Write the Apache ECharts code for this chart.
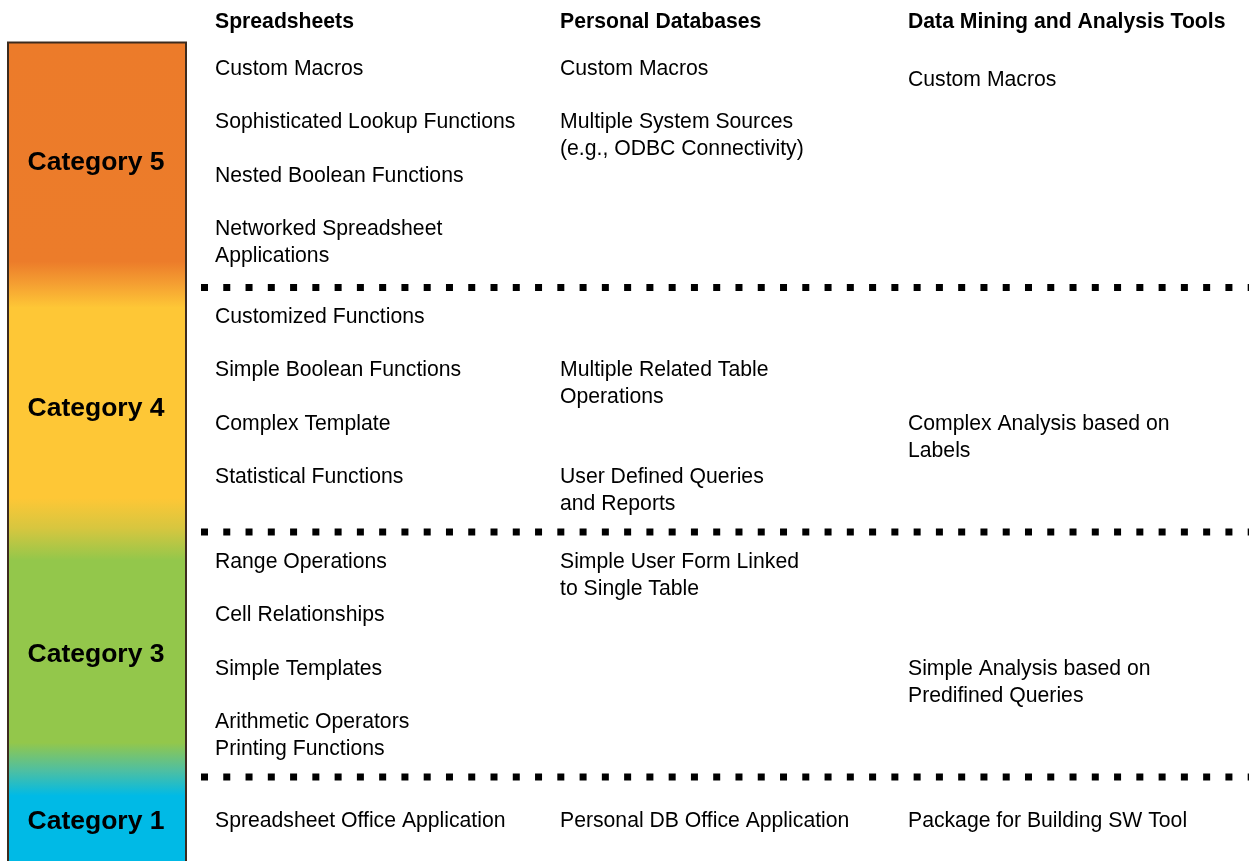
<!DOCTYPE html>
<html>
<head>
<meta charset="utf-8">
<script src="https://cdn.jsdelivr.net/npm/echarts@6/dist/echarts.min.js"></script>
<style>
html,body{margin:0;padding:0;background:#fff;}
#main{width:1249px;height:861px;}
</style>
</head>
<body>
<div id="main"></div>
<script>
// ---- data ----
const levels = ['Category 5', 'Category 4', 'Category 3', 'Category 1'];
const columns = ['Spreadsheets', 'Personal Databases', 'Data Mining and Analysis Tools'];
// [levelIndex, rowIndex, text]
const spreadsheetItems = [
  [0, 0, 'Custom Macros'],
  [0, 1, 'Sophisticated Lookup Functions'],
  [0, 2, 'Nested Boolean Functions'],
  [0, 3, 'Networked Spreadsheet\nApplications'],
  [1, 0, 'Customized Functions'],
  [1, 1, 'Simple Boolean Functions'],
  [1, 2, 'Complex Template'],
  [1, 3, 'Statistical Functions'],
  [2, 0, 'Range Operations'],
  [2, 1, 'Cell Relationships'],
  [2, 2, 'Simple Templates'],
  [2, 3, 'Arithmetic Operators\nPrinting Functions'],
  [3, 0, 'Spreadsheet Office Application']
];
const databaseItems = [
  [0, 0, 'Custom Macros'],
  [0, 1, 'Multiple System Sources\n(e.g., ODBC Connectivity)'],
  [1, 1, 'Multiple Related Table\nOperations'],
  [1, 3, 'User Defined Queries\nand Reports'],
  [2, 0, 'Simple User Form Linked\nto Single Table'],
  [3, 0, 'Personal DB Office Application']
];
const miningItems = [
  [0, 0.2, 'Custom Macros'],
  [1, 2, 'Complex Analysis based on\nLabels'],
  [2, 2, 'Simple Analysis based on\nPredifined Queries'],
  [3, 0, 'Package for Building SW Tool']
];

// ---- layout ----
const W = 1249, H = 861;
const levelTop = [69, 317, 562, 821];
const levelCenter = [163, 409, 655, 822];
const separatorY = [287.5, 532, 777];
const rowStep = 53.5;
const lineH = 27;
const colX = [215, 560, 908];
const headerY = 22;
const FONT = '"Liberation Sans", Arial, sans-serif';

function toPoints(items, col) {
  return items.map(function (it) {
    const lines = it[2].split('\n').length;
    const y = levelTop[it[0]] + it[1] * rowStep + (lines - 1) * lineH / 2;
    return { name: it[2], value: [colX[col], y] };
  });
}

const textLabel = {
  show: true, position: 'right', distance: 0, formatter: '{b}',
  color: '#000', fontFamily: FONT, fontSize: 21.2, lineHeight: lineH
};
const solid = { opacity: 1, color: 'transparent' };

const series = [];

// gradient scale bar
series.push({
  type: 'custom',
  coordinateSystem: 'cartesian2d',
  silent: true,
  z: 1,
  data: [[8, 42.5, 186, H + 10]],
  renderItem: function (params, api) {
    const p0 = api.coord([api.value(0), api.value(1)]);
    const p1 = api.coord([api.value(2), api.value(3)]);
    function s(y) { return (y - p0[1]) / (p1[1] - p0[1]); }
    return {
      type: 'rect',
      shape: { x: p0[0], y: p0[1], width: p1[0] - p0[0], height: p1[1] - p0[1] },
      style: {
        fill: new echarts.graphic.LinearGradient(0, 0, 0, 1, [
          { offset: 0, color: '#EC7B2A' },
          { offset: s(262), color: '#EC7C2A' },
          { offset: s(285), color: '#F5A032' },
          { offset: s(308), color: '#FEC736' },
          { offset: s(498), color: '#FEC736' },
          { offset: s(528), color: '#D7C63F' },
          { offset: s(560), color: '#93C74B' },
          { offset: s(742), color: '#93C74B' },
          { offset: s(770), color: '#4EBFA2' },
          { offset: s(795), color: '#00BAE6' },
          { offset: 1, color: '#00BAE6' }
        ]),
        stroke: '#3c2b1e',
        lineWidth: 2
      }
    };
  }
});

// category labels
series.push({
  type: 'scatter', symbolSize: 0, silent: true, z: 5,
  itemStyle: solid,
  data: levels.map(function (n, i) { return { name: n, value: [96, levelCenter[i]] }; }),
  label: { show: true, position: 'inside', formatter: '{b}', color: '#000',
    fontFamily: FONT, fontSize: 26.5, fontWeight: 'bold' }
});

// column headers
series.push({
  type: 'scatter', symbolSize: 0, silent: true, z: 5,
  itemStyle: solid,
  data: columns.map(function (n, i) { return { name: n, value: [colX[i], headerY] }; }),
  label: Object.assign({}, textLabel, { fontWeight: 'bold' })
});

// items
[spreadsheetItems, databaseItems, miningItems].forEach(function (items, col) {
  series.push({
    type: 'scatter', symbolSize: 0, silent: true, z: 5,
    itemStyle: solid,
    data: toPoints(items, col),
    label: textLabel
  });
});

// dotted separators
separatorY.forEach(function (y) {
  series.push({
    type: 'line', silent: true, symbol: 'none', z: 3,
    data: [[201, y], [W + 20, y]],
    lineStyle: { color: '#000', width: 7, type: [7, 15.27], cap: 'butt' }
  });
});

const chart = echarts.init(document.getElementById('main'), null, { renderer: 'canvas' });
chart.setOption({
  animation: false,
  backgroundColor: '#fff',
  grid: { left: 0, top: 0, right: 0, bottom: 0 },
  xAxis: { type: 'value', min: 0, max: W, show: false },
  yAxis: { type: 'value', min: 0, max: H, inverse: true, show: false },
  series: series
});
</script>
</body>
</html>
